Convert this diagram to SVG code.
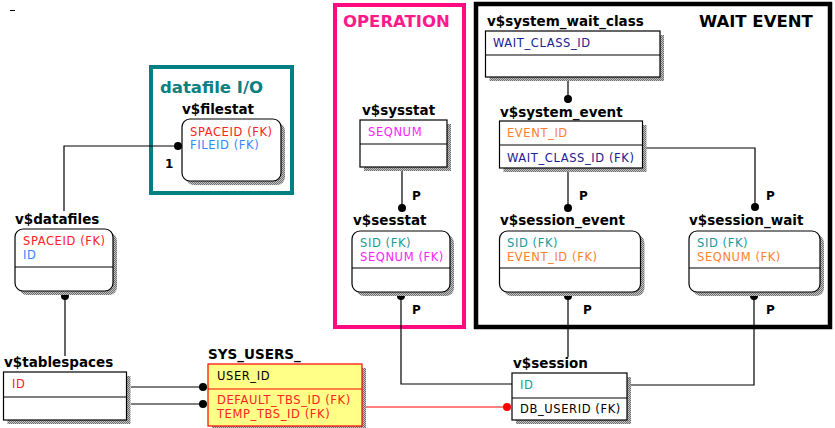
<svg xmlns="http://www.w3.org/2000/svg" width="835" height="428" viewBox="0 0 835 428">
<style>
.bg{fill:#fff}
.box{fill:#fff;stroke:#000;stroke-width:1.2}
.ybox{fill:#ffff88;stroke:#ff0000;stroke-width:1.2}
.div{stroke:#000;stroke-width:1.2}
.rdiv{stroke:#ff0000;stroke-width:1.2}
.sh{fill:url(#shp)}
.lbl{font-family:"DejaVu Sans",Verdana,sans-serif;font-weight:bold;font-size:13.5px;fill:#000}
.att{font-family:"DejaVu Sans",Verdana,sans-serif;font-size:11.5px;letter-spacing:0.6px}
.ttl{font-family:"DejaVu Sans",Verdana,sans-serif;font-weight:bold;font-size:16.5px}
.card{font-family:"DejaVu Sans",Verdana,sans-serif;font-weight:bold;font-size:12px;fill:#000}
.ln{fill:none;stroke:#000;stroke-width:1.2}
.rln{fill:none;stroke:#ff0000;stroke-width:1.2}
.red{fill:#ff2222}.blue{fill:#3388ff}.teal{fill:#1a9a9a}.mag{fill:#ff22ff}.org{fill:#ff8030}.navy{fill:#202090}.blk{fill:#000}
</style>
<defs>
<pattern id="shp" width="2" height="2" patternUnits="userSpaceOnUse">
<rect width="2" height="2" fill="#c4c4c4"/>
<rect width="1" height="1" fill="#6e6e6e"/>
<rect x="1" y="1" width="1" height="1" fill="#6e6e6e"/>
</pattern>
</defs>
<rect class="bg" width="835" height="428"/>
<line x1="10" y1="10.5" x2="15" y2="10.5" stroke="#000" stroke-width="1"/>

<g id="areas">
<g id="area-datafile">
<rect x="151" y="67" width="141" height="126" fill="none" stroke="#008080" stroke-width="4"/>
<text class="ttl" x="160" y="93" fill="#0a8080">datafile I/O</text>
</g>
<g id="area-operation">
<rect x="335" y="5" width="129" height="322" fill="none" stroke="#ff0a80" stroke-width="4"/>
<text class="ttl" x="343" y="27" fill="#ff1a8c">OPERATION</text>
</g>
<g id="area-wait">
<rect x="476" y="4" width="354" height="323" fill="none" stroke="#000" stroke-width="4.5"/>
<text class="ttl" x="699" y="27" fill="#000">WAIT EVENT</text>
</g>
</g>

<g id="connectors">
<path class="ln" d="M178,146 H64 V211"/>
<circle cx="178" cy="146" r="4"/>
<text class="card" x="165" y="168">1</text>

<path class="ln" d="M65,296 V356"/>
<circle cx="65" cy="296" r="4"/>

<path class="ln" d="M131,387 H203"/>
<path class="ln" d="M131,404 H203"/>
<circle cx="203" cy="387" r="4"/>
<circle cx="203" cy="404" r="4"/>

<path class="rln" d="M366,407 H507"/>
<circle cx="507" cy="407" r="4" fill="#ff0000"/>

<path class="ln" d="M402,171 V208"/>
<circle cx="402" cy="208" r="4"/>
<text class="card" x="412" y="200">P</text>

<path class="ln" d="M401,296 V384 H512"/>
<circle cx="401" cy="296" r="4"/>
<text class="card" x="412" y="314">P</text>

<path class="ln" d="M568,81 V99"/>
<circle cx="568" cy="99" r="4"/>

<path class="ln" d="M568,172 V208"/>
<circle cx="568" cy="208" r="4"/>
<text class="card" x="579" y="200">P</text>

<path class="ln" d="M646,148 H755 V207"/>
<circle cx="755" cy="207" r="4"/>
<text class="card" x="766" y="200">P</text>

<path class="ln" d="M568,296 V357"/>
<circle cx="568" cy="296" r="4"/>
<text class="card" x="583" y="314">P</text>

<path class="ln" d="M754,296 V385 H631"/>
<circle cx="754" cy="296" r="4"/>
<text class="card" x="766" y="314">P</text>
</g>

<g id="v_filestat">
<text class="lbl" x="182" y="114">v$filestat</text>
<rect class="sh" x="186" y="123" width="99" height="62" rx="8"/>
<rect class="box" x="182" y="119" width="99" height="62" rx="8"/>
<text class="att red" x="190" y="136">SPACEID (FK)</text>
<text class="att blue" x="190" y="149">FILEID (FK)</text>
</g>

<g id="v_datafiles">
<text class="lbl" x="15" y="224">v$datafiles</text>
<rect class="sh" x="19" y="233" width="98" height="62" rx="8"/>
<rect class="box" x="15" y="229" width="98" height="62" rx="8"/>
<line class="div" x1="15" y1="267" x2="113" y2="267"/>
<text class="att red" x="23" y="245">SPACEID (FK)</text>
<text class="att blue" x="23" y="259">ID</text>
</g>

<g id="v_tablespaces">
<text class="lbl" x="4" y="367">v$tablespaces</text>
<rect class="sh" x="7.5" y="376" width="123" height="48"/>
<rect class="box" x="3.5" y="372" width="123" height="48"/>
<line class="div" x1="3.5" y1="397" x2="126.5" y2="397"/>
<text class="att red" x="12" y="388">ID</text>
</g>

<g id="sys_users">
<text class="lbl" x="208" y="359">SYS_USERS_</text>
<rect class="sh" x="212" y="368" width="154" height="62"/>
<rect class="ybox" x="208" y="364" width="154" height="62"/>
<line class="rdiv" x1="208" y1="389" x2="362" y2="389"/>
<text class="att blk" x="217" y="380">USER_ID</text>
<text class="att red" x="217" y="404">DEFAULT_TBS_ID (FK)</text>
<text class="att red" x="217" y="418">TEMP_TBS_ID (FK)</text>
</g>

<g id="v_session">
<text class="lbl" x="513" y="368">v$session</text>
<rect class="sh" x="516" y="377" width="115" height="47"/>
<rect class="box" x="512" y="373" width="115" height="47"/>
<line class="div" x1="512" y1="398" x2="627" y2="398"/>
<text class="att teal" x="520" y="389">ID</text>
<text class="att blk" x="520" y="413">DB_USERID (FK)</text>
</g>

<g id="v_sysstat">
<text class="lbl" x="362" y="115">v$sysstat</text>
<rect class="sh" x="364" y="124" width="87" height="47"/>
<rect class="box" x="360" y="120" width="87" height="47"/>
<line class="div" x1="360" y1="144" x2="447" y2="144"/>
<text class="att mag" x="368" y="136">SEQNUM</text>
</g>

<g id="v_sesstat">
<text class="lbl" x="353" y="225">v$sesstat</text>
<rect class="sh" x="356" y="235" width="98" height="61" rx="8"/>
<rect class="box" x="352" y="231" width="98" height="61" rx="8"/>
<line class="div" x1="352" y1="268" x2="450" y2="268"/>
<text class="att teal" x="360" y="247">SID (FK)</text>
<text class="att mag" x="360" y="261">SEQNUM (FK)</text>
</g>

<g id="v_system_wait_class">
<text class="lbl" x="487" y="26">v$system_wait_class</text>
<rect class="sh" x="489.5" y="35" width="174.5" height="46"/>
<rect class="box" x="485.5" y="31" width="174.5" height="46"/>
<line class="div" x1="485.5" y1="55" x2="660" y2="55"/>
<text class="att navy" x="493" y="47">WAIT_CLASS_ID</text>
</g>

<g id="v_system_event">
<text class="lbl" x="500" y="117">v$system_event</text>
<rect class="sh" x="503.5" y="125" width="143" height="47"/>
<rect class="box" x="499.5" y="121" width="143" height="47"/>
<line class="div" x1="499.5" y1="145" x2="642.5" y2="145"/>
<text class="att org" x="507" y="137">EVENT_ID</text>
<text class="att navy" x="507" y="162">WAIT_CLASS_ID (FK)</text>
</g>

<g id="v_session_event">
<text class="lbl" x="500" y="225">v$session_event</text>
<rect class="sh" x="503.5" y="235" width="141" height="61" rx="8"/>
<rect class="box" x="499.5" y="231" width="141" height="61" rx="8"/>
<line class="div" x1="499.5" y1="268" x2="640.5" y2="268"/>
<text class="att teal" x="507" y="247">SID (FK)</text>
<text class="att org" x="507" y="261">EVENT_ID (FK)</text>
</g>

<g id="v_session_wait">
<text class="lbl" x="689" y="225">v$session_wait</text>
<rect class="sh" x="693" y="235" width="131" height="61" rx="8"/>
<rect class="box" x="689" y="231" width="131" height="61" rx="8"/>
<line class="div" x1="689" y1="268" x2="820" y2="268"/>
<text class="att teal" x="697" y="247">SID (FK)</text>
<text class="att org" x="697" y="261">SEQNUM (FK)</text>
</g>
</svg>
